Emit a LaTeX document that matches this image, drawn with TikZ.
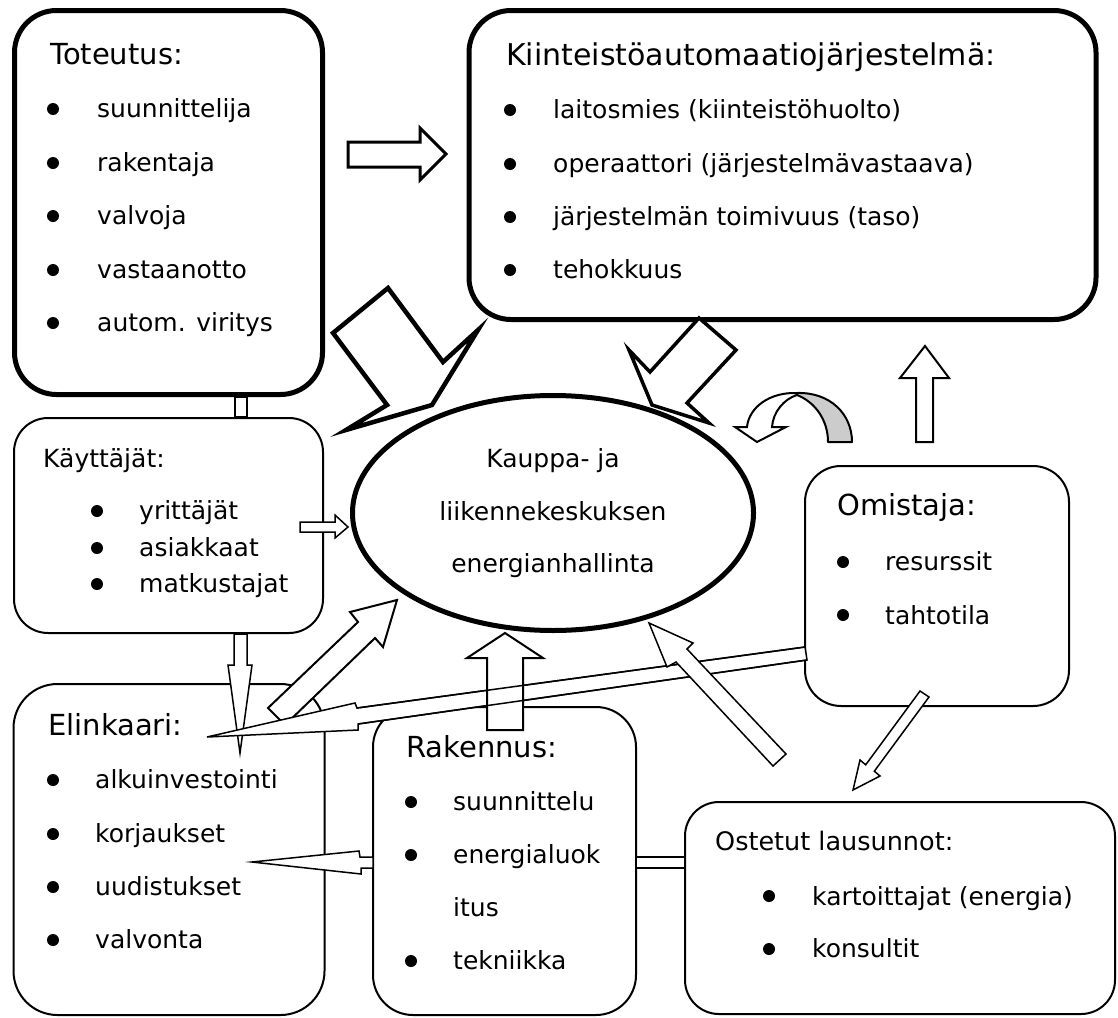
\documentclass[tikz,border=0pt]{standalone}
\usepackage{fontspec}
\setmainfont{DejaVu Sans}
\usetikzlibrary{shapes.geometric}
\definecolor{ribbon}{RGB}{204,204,204}
\tikzset{
 thickbox/.style={draw, line width=5pt, rounded corners=42pt, fill=white, inner sep=0pt},
 thinbox/.style={draw, line width=2pt, fill=white, inner sep=0pt},
 txt/.style={anchor=base west, inner sep=0pt, font=\fontsize{25}{30}\selectfont},
 ttl/.style={anchor=base west, inner sep=0pt, font=\fontsize{29}{34}\selectfont},
 ctxt/.style={anchor=base, inner sep=0pt, font=\fontsize{25}{30}\selectfont},
 bul/.style={circle, fill=black, inner sep=0pt, minimum size=12pt},
 blk/.style={draw, fill=white, line join=miter, line width=#1},
}
\begin{document}
\begin{tikzpicture}[x=1pt,y=-1pt]
\useasboundingbox (0,0) rectangle (1118,1017);
% ---------- boxes ----------
\node[thickbox, minimum width=308pt, minimum height=384pt] (tot) at (168.5,202.5) {};
\node[thickbox, minimum width=627pt, minimum height=309pt] (kia) at (782.5,165) {};
\node[thinbox, rounded corners=34pt, minimum width=309pt, minimum height=215pt] (kay) at (168.5,525.5) {};
\node[thinbox, rounded corners=44pt, minimum width=311pt, minimum height=331pt] (eli) at (169,849.5) {};
\node[thinbox, rounded corners=40pt, minimum width=263pt, minimum height=308pt] (rak) at (504.5,861) {};
\node[thinbox, rounded corners=36pt, minimum width=264pt, minimum height=240pt] (omi) at (937,586) {};
\node[thinbox, rounded corners=34pt, minimum width=430pt, minimum height=212pt] (ost) at (900,908) {};
\node[draw, ellipse, line width=5pt, fill=white, inner sep=0pt, minimum width=401pt, minimum height=235pt] (ell) at (553,513) {};

% ---------- texts ----------
% Toteutus
\node[ttl] (tot0) at (50,64) {Toteutus:};
\node[bul] (totb1) at (53,109) {};
\node[bul] (totb2) at (53,163) {};
\node[bul] (totb3) at (53,216) {};
\node[bul] (totb4) at (53,270) {};
\node[bul] (totb5) at (53,323) {};
\node[txt] (tot1) at (97,117) {suunnittelija};
\node[txt] (tot2) at (97,171) {rakentaja};
\node[txt] (tot3) at (97,224) {valvoja};
\node[txt] (tot4) at (97,278) {vastaanotto};
\node[txt] (tot5) at (97,331) {autom. viritys};
% Kiinteistoautomaatio
\node[ttl, font=\fontsize{30}{35}\selectfont] (kia0) at (506,65) {Kiinteistöautomaatiojärjestelmä:};
\node[bul] (kiab1) at (510,110) {};
\node[bul] (kiab2) at (510,164) {};
\node[bul] (kiab3) at (510,217) {};
\node[bul] (kiab4) at (510,270) {};
\node[txt] (kia1) at (553,118) {laitosmies (kiinteistöhuolto)};
\node[txt] (kia2) at (553,172) {operaattori (järjestelmävastaava)};
\node[txt] (kia3) at (553,225) {järjestelmän toimivuus (taso)};
\node[txt] (kia4) at (553,278) {tehokkuus};
% Kayttajat
\node[txt] (kay0) at (43,467) {Käyttäjät:};
\node[bul] (kayb1) at (97,511) {};
\node[bul] (kayb2) at (97,548) {};
\node[bul] (kayb3) at (97,584) {};
\node[txt] (kay1) at (139,519) {yrittäjät};
\node[txt] (kay2) at (139,556) {asiakkaat};
\node[txt] (kay3) at (139,592) {matkustajat};
% Elinkaari
\node[ttl] (eli0) at (48,735) {Elinkaari:};
\node[bul] (elib1) at (53,780) {};
\node[bul] (elib2) at (53,834) {};
\node[bul] (elib3) at (53,887) {};
\node[bul] (elib4) at (53,940) {};
\node[txt] (eli1) at (95,788) {alkuinvestointi};
\node[txt] (eli2) at (95,842) {korjaukset};
\node[txt] (eli3) at (95,895) {uudistukset};
\node[txt] (eli4) at (95,948) {valvonta};
% Rakennus
\node[ttl] (rak0) at (406,757) {Rakennus:};
\node[bul] (rakb1) at (411,802) {};
\node[bul] (rakb2) at (411,855) {};
\node[bul] (rakb4) at (411,961) {};
\node[txt] (rak1) at (453,810) {suunnittelu};
\node[txt] (rak2) at (453,863) {energialuok};
\node[txt] (rak3) at (453,916) {itus};
\node[txt] (rak4) at (453,969) {tekniikka};
% Omistaja
\node[ttl] (omi0) at (837,515) {Omistaja:};
\node[bul] (omib1) at (843,562) {};
\node[bul] (omib2) at (843,615) {};
\node[txt] (omi1) at (885,570) {resurssit};
\node[txt] (omi2) at (885,624) {tahtotila};
% Ostetut lausunnot
\node[txt, font=\fontsize{25.5}{30}\selectfont] (ost0) at (715,850) {Ostetut lausunnot:};
\node[bul] (ostb1) at (769,896) {};
\node[bul] (ostb2) at (769,949) {};
\node[txt] (ost1) at (812,905) {kartoittajat (energia)};
\node[txt] (ost2) at (812,957) {konsultit};
% Ellipse
\node[ctxt] (ell1) at (553,467) {Kauppa- ja};
\node[ctxt] (ell2) at (553,520) {liikennekeskuksen};
\node[ctxt] (ell3) at (553,572) {energianhallinta};

% ---------- block arrows ----------
% Toteutus -> ellipse (big)
\draw[blk=4.5pt] (333,333) -- (388,288) -- (443,362) -- (478,330) -- (432,405) -- (346,430) -- (387,405) -- cycle;
% Kiinteisto -> ellipse (big)
\draw[blk=3.5pt] (699,318) -- (736,350) -- (687,403) -- (709,423) -- (652,405) -- (629,350) -- (650,372) -- cycle;
% Toteutus -> Kiinteisto
\draw[blk=3pt] (348,142) -- (420,142) -- (420,128) -- (446,154) -- (420,180) -- (420,167) -- (348,167) -- cycle;
% Omistaja -> Kiinteisto
\draw[blk=2pt] (916,442) -- (916,378) -- (900,378) -- (925,346) -- (949,378) -- (933,378) -- (933,442) -- cycle;
% U-turn arrow
\draw[line width=2pt, fill=ribbon, line join=round] (797,393) .. controls (830,392) and (852,414) .. (852,442) -- (828,442) .. controls (828,420) and (815,402) .. (797,395) -- cycle;
\draw[line width=2pt, fill=white, line join=miter] (797,393) .. controls (770,392) and (749,407) .. (747,427) -- (735,427) -- (757,442) -- (786,427) -- (772,427) .. controls (773,412) and (784,399) .. (797,395) -- cycle;
% Toteutus -- Kayttajat
\draw[blk=1.5pt] (235,397) rectangle (247,417);
% Kayttajat -> ellipse
\draw[blk=1.5pt] (300,522) -- (335,522) -- (335,515) -- (348,527) -- (335,538) -- (335,532) -- (300,532) -- cycle;
% Kayttajat -> Elinkaari
\draw[blk=1.5pt] (234,634) -- (234,665) -- (228,665) -- (240,753) -- (252,665) -- (247,665) -- (247,634) -- cycle;
% Elinkaari -> ellipse
\draw[blk=2pt] (268,708) -- (358,622) -- (350,612) -- (397,600) -- (383,647) -- (375,638) -- (285,725) -- cycle;
% Omistaja -> Elinkaari (long), filled
\draw[blk=1.5pt] (805,647) -- (357,708) -- (355,703) -- (207,737) -- (358,730) -- (358,724) -- (807,660) -- cycle;
% Rakennus -> ellipse
\draw[blk=2pt] (487,730) -- (487,658) -- (467,658) -- (505,633) -- (543,658) -- (523,658) -- (523,730) -- cycle;
% long arrow outline again, visible across the up arrow
\draw[line width=1.5pt, line join=miter] (805,647) -- (357,708) (358,724) -- (807,660);
% Rakennus -> Elinkaari
\draw[blk=1.5pt] (373,857) -- (360,857) -- (359,851) -- (252,862) -- (361,874) -- (361,868) -- (373,868) -- cycle;
% Rakennus -- Ostetut
\draw[blk=1.5pt] (636,857) rectangle (685,868);
% Ostetut -> ellipse
\draw[blk=1.5pt] (773,766) -- (676,662) -- (667,667) -- (649,623) -- (693,643) -- (687,649) -- (786,754) -- cycle;
% Omistaja -> Ostetut
\draw[blk=1.5pt] (920,691) -- (865.7,764.8) -- (860,760) -- (853,790) -- (880,776) -- (874.3,771.2) -- (929,697) -- cycle;
\end{tikzpicture}
\end{document}
